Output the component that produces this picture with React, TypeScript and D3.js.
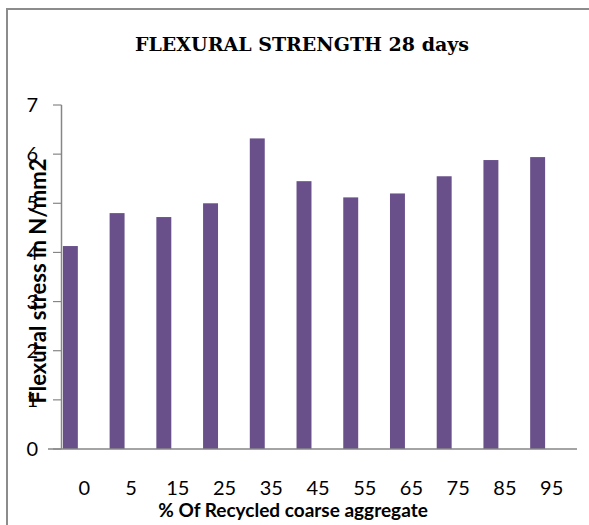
import React, { useMemo } from 'react'
import * as d3 from 'd3'

// data
const categories = ['0', '5', '15', '25', '35', '45', '55', '65', '75', '85', '95']
const flexuralValues = [4.13, 4.8, 4.72, 5.0, 6.32, 5.45, 5.12, 5.2, 5.55, 5.88, 5.94]
const yTicks = [0, 1, 2, 3, 4, 5, 6, 7]

const W = 589
const H = 525
const BAR = '#69508a'
const AXIS = '#868686'
const SANS = 'Lato, "Open Sans", sans-serif'

export default function App() {
  const x = useMemo(
    () => d3.scaleBand<string>().domain(categories).range([47, 561]).paddingInner(0.68).paddingOuter(0.34),
    []
  )
  const y = useMemo(() => d3.scaleLinear().domain([0, 7]).range([449, 105]), [])

  const axisLeft = 61.5
  const axisRight = 577
  // category labels sit a bit right of their bars in the original figure
  const labelShift = 14

  return (
    <div style={{ position: 'absolute', left: 0, top: 0 }}>
      <svg width={W} height={H} style={{ display: 'block', background: '#fff' }}>
        {/* chart frame */}
        <path d={`M7,${H} V9 H${W}`} fill="none" stroke="#8c8c8c" strokeWidth={2} />

        <text x={302} y={51} textAnchor="middle" fontFamily='"DejaVu Serif", "Liberation Serif", serif'
          fontWeight="bold" fontSize={19} fill="#000">
          FLEXURAL STRENGTH 28 days
        </text>

        {/* bars */}
        {categories.map((c, i) => (
          <rect key={c} x={x(c)} y={y(flexuralValues[i])} width={x.bandwidth()}
            height={y(0) - y(flexuralValues[i])} fill={BAR} />
        ))}

        {/* y axis */}
        <line x1={axisLeft} x2={axisLeft} y1={y(7)} y2={y(0)} stroke={AXIS} strokeWidth={1.5} />
        {yTicks.map(t => (
          <g key={t}>
            <line x1={53} x2={axisLeft} y1={y(t)} y2={y(t)} stroke={AXIS} strokeWidth={1.2} />
            <text x={38} y={y(t)} dy="0.36em" textAnchor="end" fontFamily={SANS} fontSize={20} fill="#000">
              {t}
            </text>
          </g>
        ))}

        {/* x axis */}
        <line x1={48} x2={axisRight} y1={y(0)} y2={y(0)} stroke={AXIS} strokeWidth={1.5} />
        {categories.map(c => (
          <text key={c} x={(x(c) ?? 0) + x.bandwidth() / 2 + labelShift} y={495} textAnchor="middle"
            fontFamily={SANS} fontSize={20} fill="#000">
            {c}
          </text>
        ))}

        <text x={293} y={517} textAnchor="middle" fontFamily={SANS} fontWeight="bold" fontSize={19} fill="#000">
          % Of Recycled coarse aggregate
        </text>

        <text transform={`translate(46,281) rotate(-90)`} textAnchor="middle" fontFamily={SANS}
          fontWeight="bold" fontSize={22} fill="#000">
          Flexural stress in N/mm2
        </text>
      </svg>
    </div>
  )
}
